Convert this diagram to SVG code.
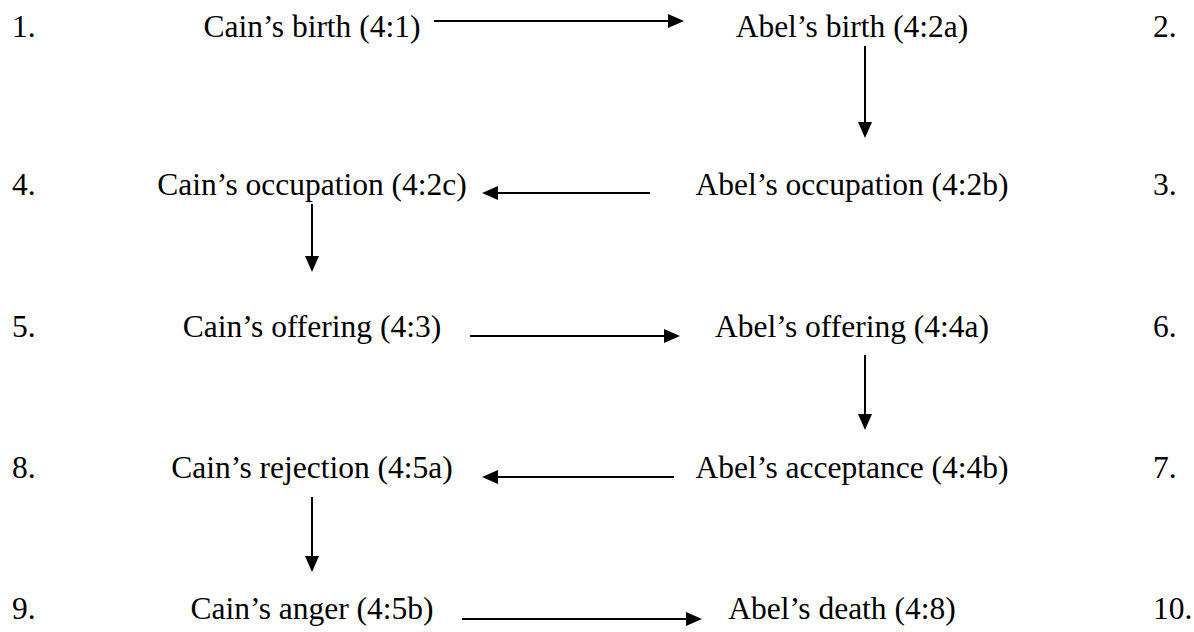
<svg xmlns="http://www.w3.org/2000/svg" width="1194" height="632" viewBox="0 0 1194 632">
<style>
text{font-family:"Liberation Serif","Times New Roman",serif;font-size:31.5px;fill:#000}
.c{text-anchor:middle}
.conn line{stroke:#000;stroke-width:2}
</style>
<defs>
<marker id="ah" viewBox="0 0 16 14" refX="6" refY="7" markerWidth="16" markerHeight="14" markerUnits="userSpaceOnUse" orient="auto">
<path d="M0,0 L16,7 L0,14 z" fill="#000"/>
</marker>
</defs>
<rect width="1194" height="632" fill="#fff"/>
<g id="numbers">
<text x="12" y="37">1.</text>
<text x="1153" y="37">2.</text>
<text x="1153" y="195">3.</text>
<text x="12" y="195">4.</text>
<text x="12" y="337">5.</text>
<text x="1153" y="337">6.</text>
<text x="1153" y="478">7.</text>
<text x="12" y="478">8.</text>
<text x="12" y="619">9.</text>
<text x="1153" y="619">10.</text>
</g>
<g id="n1"><text class="c" x="312" y="37">Cain’s birth (4:1)</text></g>
<g id="n2"><text class="c" x="852" y="37">Abel’s birth (4:2a)</text></g>
<g id="n3"><text class="c" x="852" y="195">Abel’s occupation (4:2b)</text></g>
<g id="n4"><text class="c" x="312" y="195">Cain’s occupation (4:2c)</text></g>
<g id="n5"><text class="c" x="312" y="337">Cain’s offering (4:3)</text></g>
<g id="n6"><text class="c" x="852" y="337">Abel’s offering (4:4a)</text></g>
<g id="n7"><text class="c" x="852" y="478">Abel’s acceptance (4:4b)</text></g>
<g id="n8"><text class="c" x="312" y="478">Cain’s rejection (4:5a)</text></g>
<g id="n9"><text class="c" x="312" y="619">Cain’s anger (4:5b)</text></g>
<g id="n10"><text class="c" x="842" y="619">Abel’s death (4:8)</text></g>
<g id="connectors" class="conn">
<line x1="434" y1="21" x2="674" y2="21" marker-end="url(#ah)"/>
<line x1="865" y1="46" x2="865" y2="128" marker-end="url(#ah)"/>
<line x1="650" y1="193" x2="492" y2="193" marker-end="url(#ah)"/>
<line x1="312" y1="204" x2="312" y2="262" marker-end="url(#ah)"/>
<line x1="470" y1="336" x2="670" y2="336" marker-end="url(#ah)"/>
<line x1="865" y1="355" x2="865" y2="420" marker-end="url(#ah)"/>
<line x1="674" y1="477" x2="492" y2="477" marker-end="url(#ah)"/>
<line x1="312" y1="497" x2="312" y2="562" marker-end="url(#ah)"/>
<line x1="462" y1="619" x2="692" y2="619" marker-end="url(#ah)"/>
</g>
</svg>
